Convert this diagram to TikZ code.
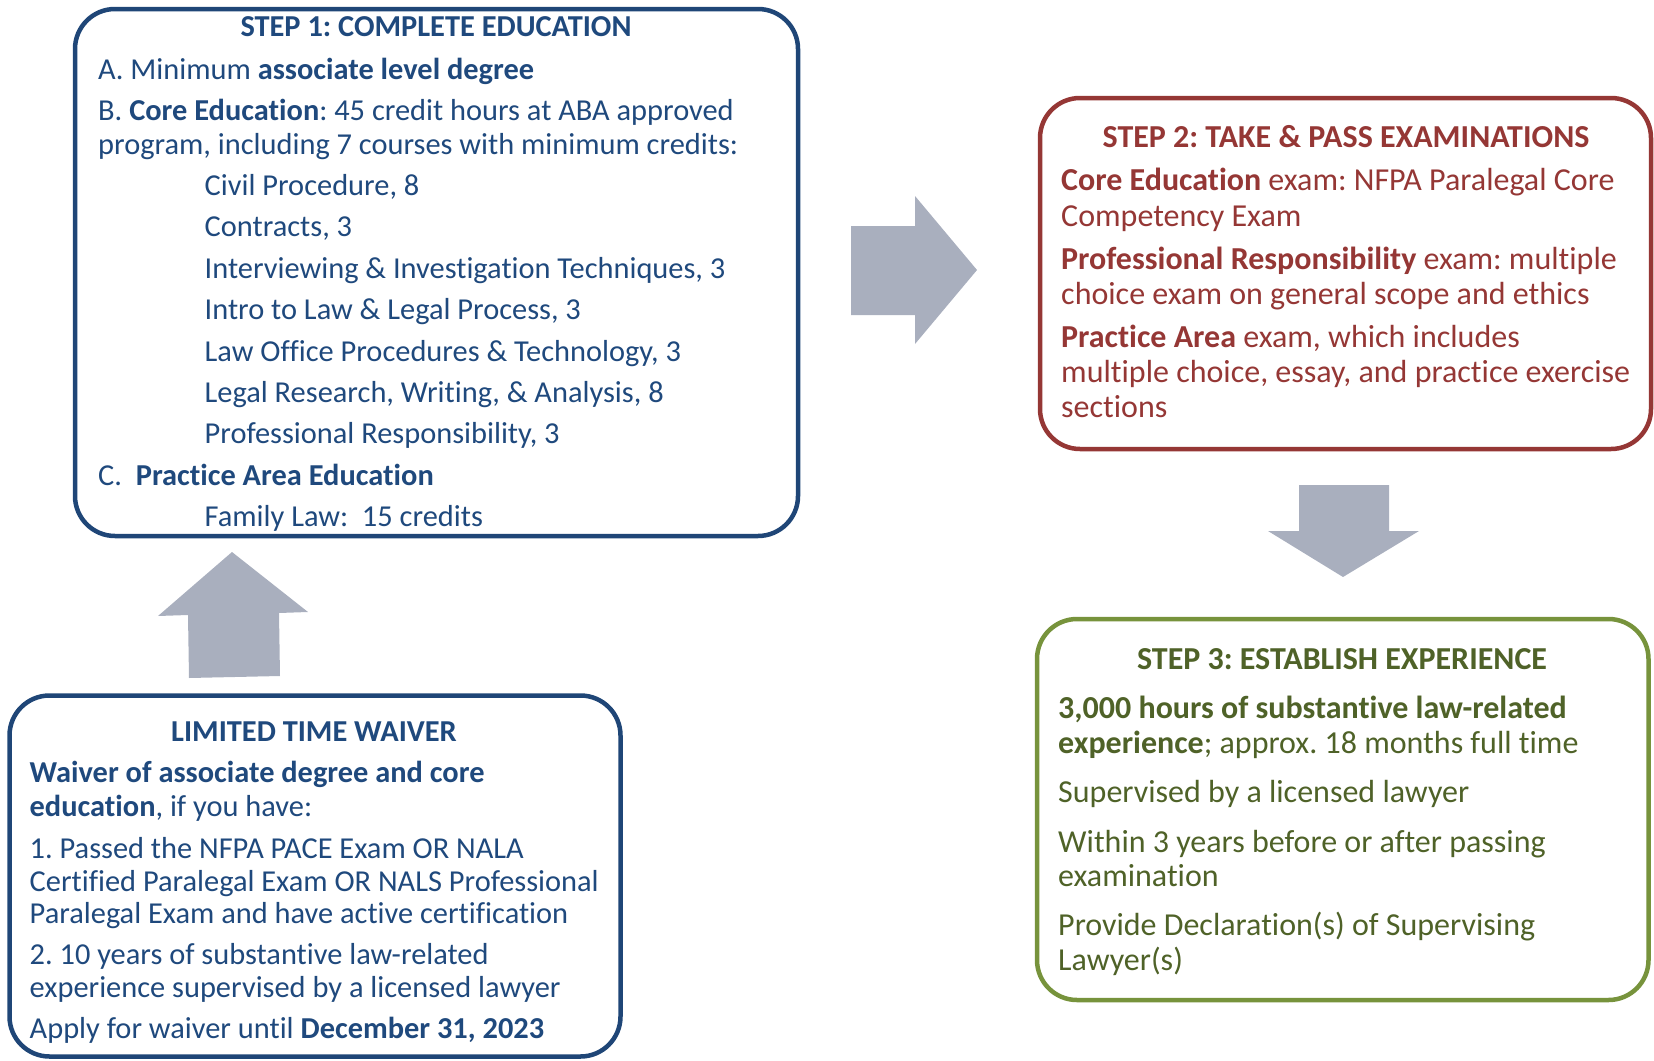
\documentclass[tikz,border=0pt]{standalone}
\usepackage{fontspec}
\setmainfont{Carlito}[Ligatures=NoCommon]
\frenchspacing
\begin{document}
\begin{tikzpicture}[x=1pt,y=-1pt]
\definecolor{navy}{HTML}{1F497D}
\definecolor{navyline}{HTML}{1F4677}
\definecolor{brick}{HTML}{953735}
\definecolor{olive}{HTML}{77933C}
\definecolor{olivetext}{HTML}{4F6228}
\definecolor{arrowgray}{HTML}{A9AFBE}
\tikzset{
  stepbox/.style={draw=#1, line width=4.5pt, rounded corners=40pt, fill=white},
  ln/.style={anchor=base west, inner sep=0pt, text=#1, font=\fontsize{30.4}{34}\selectfont},
  lnb/.style={anchor=base west, inner sep=0pt, text=#1, font=\fontsize{32}{35}\selectfont},
  ttl/.style={anchor=base, inner sep=0pt, text=#1, font=\fontsize{30.4}{34}\selectfont\bfseries},
  ttlb/.style={anchor=base, inner sep=0pt, text=#1, font=\fontsize{32}{35}\selectfont\bfseries},
  blockarrow/.style={fill=arrowgray, draw=none}
}
\useasboundingbox (0,0) rectangle (1654,1060);

% Step 1 box
\draw[stepbox=navyline] (75,9) rectangle (798,536);
\node[ttl=navy] (t1) at (436,36.5) {STEP 1: COMPLETE EDUCATION};
\node[ln=navy] (a1) at (98,79.5) {A. Minimum \textbf{associate level degree}};
\node[ln=navy] (b1) at (98,120.5) {B. \textbf{Core Education}: 45 credit hours at ABA approved};
\node[ln=navy] (b2) at (98,154.5) {program, including 7 courses with minimum credits:};
\node[ln=navy] (c1) at (204.5,195.5) {Civil Procedure, 8};
\node[ln=navy] (c2) at (204.5,236.9) {Contracts, 3};
\node[ln=navy] (c3) at (204.5,278.3) {Interviewing \& Investigation Techniques, 3};
\node[ln=navy] (c4) at (204.5,319.7) {Intro to Law \& Legal Process, 3};
\node[ln=navy] (c5) at (204.5,361.1) {Law Office Procedures \& Technology, 3};
\node[ln=navy] (c6) at (204.5,402.5) {Legal Research, Writing, \& Analysis, 8};
\node[ln=navy] (c7) at (204.5,443.9) {Professional Responsibility, 3};
\node[ln=navy] (p1) at (98,485.3) {C.\ \ \textbf{Practice Area Education}};
\node[ln=navy] (p2) at (204.5,526.7) {Family Law:\ \ 15 credits};

% Step 2 box
\draw[stepbox=brick] (1040,98) rectangle (1651,449);
\node[ttlb=brick] (t2) at (1346,147) {STEP 2: TAKE \& PASS EXAMINATIONS};
\node[lnb=brick] (e1) at (1061,190) {\textbf{Core Education} exam: NFPA Paralegal Core};
\node[lnb=brick] (e2) at (1061,226) {Competency Exam};
\node[lnb=brick] (e3) at (1061,269) {\textbf{Professional Responsibility} exam: multiple};
\node[lnb=brick] (e4) at (1061,304) {choice exam on general scope and ethics};
\node[lnb=brick] (e5) at (1061,347.5) {\textbf{Practice Area} exam, which includes};
\node[lnb=brick] (e6) at (1061,382) {multiple choice, essay, and practice exercise};
\node[lnb=brick] (e7) at (1061,417) {sections};

% Step 3 box
\draw[stepbox=olive] (1037,619) rectangle (1648.5,1000);
\node[ttlb=olivetext] (t3) at (1342,669) {STEP 3: ESTABLISH EXPERIENCE};
\node[lnb=olivetext] (x1) at (1058,718) {\textbf{3,000 hours of substantive law-related}};
\node[lnb=olivetext] (x2) at (1058,753.6) {\textbf{experience}; approx. 18 months full time};
\node[lnb=olivetext] (x3) at (1058,802) {Supervised by a licensed lawyer};
\node[lnb=olivetext] (x4) at (1058,852) {Within 3 years before or after passing};
\node[lnb=olivetext] (x5) at (1058,886.5) {examination};
\node[lnb=olivetext] (x6) at (1058,935) {Provide Declaration(s) of Supervising};
\node[lnb=olivetext] (x7) at (1058,970) {Lawyer(s)};

% Waiver box
\draw[stepbox=navyline] (9.5,695.5) rectangle (620.5,1056.5);
\node[ttl=navy] (t4) at (314,741) {LIMITED TIME WAIVER};
\node[ln=navy] (w1) at (29.5,782) {\textbf{Waiver of associate degree and core}};
\node[ln=navy] (w2) at (29.5,816) {\textbf{education}, if you have:};
\node[ln=navy] (w3) at (29.5,858) {1. Passed the NFPA PACE Exam OR NALA};
\node[ln=navy] (w4) at (29.5,891) {Certified Paralegal Exam OR NALS Professional};
\node[ln=navy] (w5) at (29.5,923) {Paralegal Exam and have active certification};
\node[ln=navy] (w6) at (29.5,964.5) {2. 10 years of substantive law-related};
\node[ln=navy] (w7) at (29.5,997) {experience supervised by a licensed lawyer};
\node[ln=navy] (w8) at (29.5,1038) {Apply for waiver until \textbf{December 31, 2023}};

% Block arrows between the steps
\fill[blockarrow] (851,226) -- (915,226) -- (915,196) -- (977,270)
  -- (915,344) -- (915,315) -- (851,315) -- cycle;
\fill[blockarrow] (1299,485) -- (1389,485) -- (1389,531) -- (1419,531)
  -- (1343,577) -- (1268,531) -- (1299,531) -- cycle;
\fill[blockarrow] (189,678) -- (188,615) -- (158,616) -- (232,552)
  -- (308,612) -- (279,613) -- (280,676) -- cycle;
\end{tikzpicture}
\end{document}
